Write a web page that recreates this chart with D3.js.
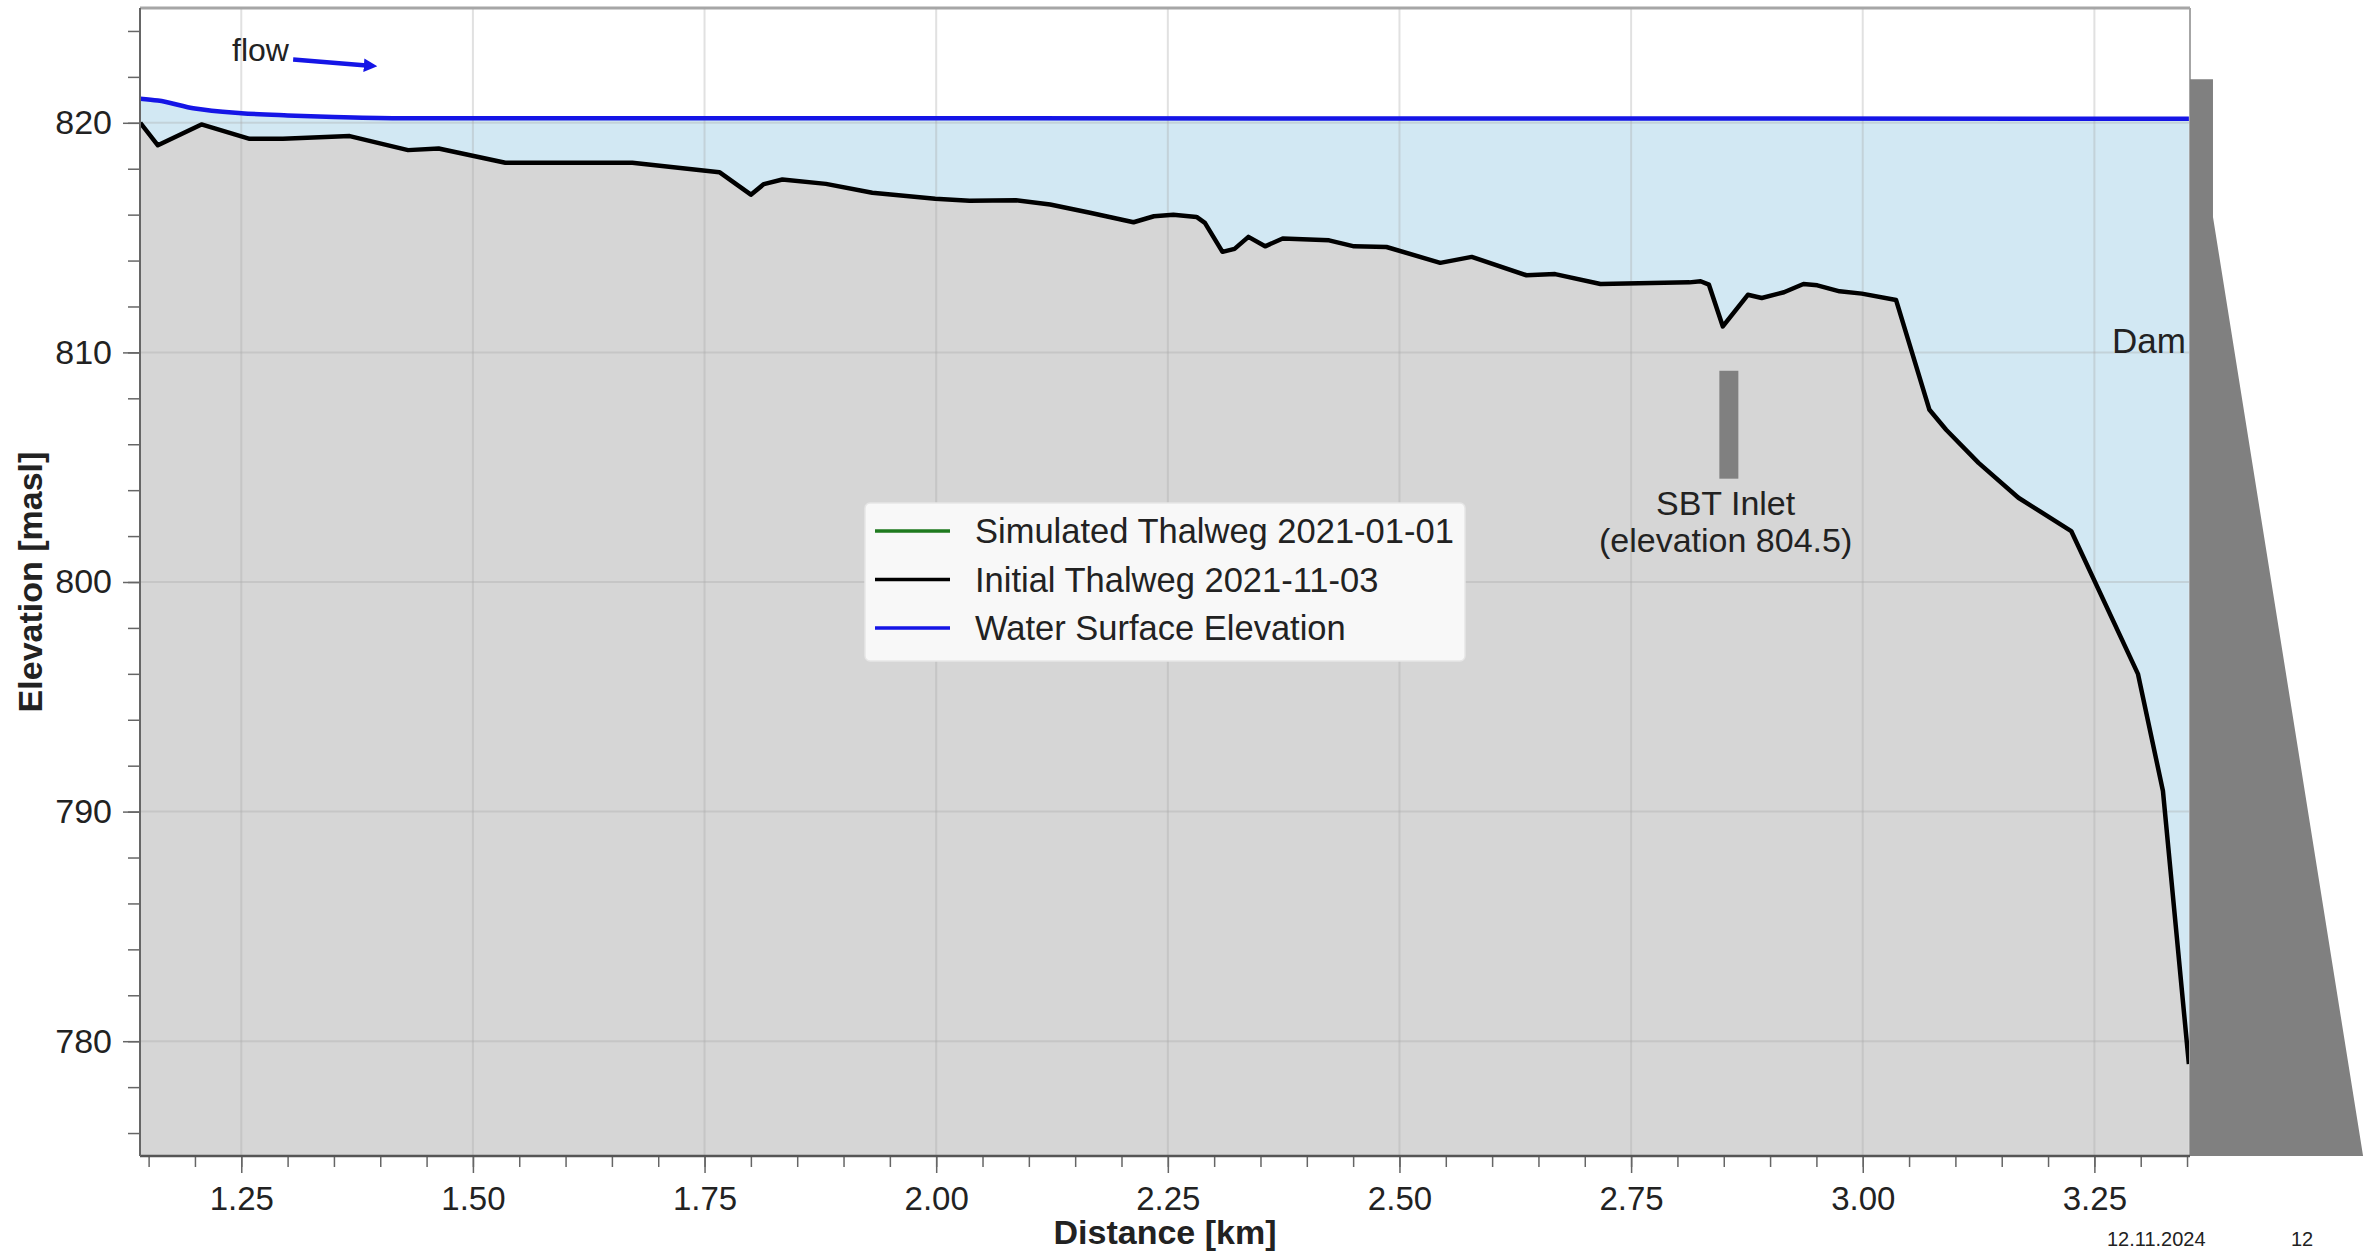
<!DOCTYPE html>
<html>
<head>
<meta charset="utf-8">
<script src="https://cdn.jsdelivr.net/npm/d3@7"></script>
<style>
html,body{margin:0;padding:0;background:#fff;}
svg{display:block;font-family:"Liberation Sans",Arial,Helvetica,sans-serif;}
</style>
</head>
<body>
<svg id="chart" width="2374" height="1253"></svg>
<script>
// Initial thalweg 2021-11-03: distance along reservoir [km] and bed elevation [masl]
const thalwegKm = [1.141, 1.160, 1.207, 1.259, 1.295, 1.367, 1.430, 1.463, 1.535, 1.672,
  1.766, 1.800, 1.814, 1.834, 1.881, 1.931, 1.999, 2.036, 2.086, 2.123,
  2.166, 2.213, 2.235, 2.256, 2.281, 2.290, 2.309, 2.322, 2.337, 2.355,
  2.374, 2.424, 2.451, 2.486, 2.544, 2.578, 2.637, 2.668, 2.717, 2.813,
  2.825, 2.834, 2.849, 2.876, 2.891, 2.915, 2.936, 2.951, 2.975, 2.999,
  3.036, 3.072, 3.090, 3.125, 3.168, 3.225, 3.297, 3.324, 3.352];
const thalwegElev = [820.00, 819.02, 819.93, 819.30, 819.30, 819.42, 818.81, 818.88, 818.26, 818.26,
  817.85, 816.87, 817.33, 817.53, 817.34, 816.95, 816.69, 816.61, 816.63, 816.44,
  816.08, 815.67, 815.93, 816.00, 815.90, 815.64, 814.38, 814.51, 815.03, 814.62,
  814.96, 814.88, 814.62, 814.59, 813.90, 814.16, 813.36, 813.41, 812.98, 813.05,
  813.10, 812.95, 811.13, 812.51, 812.37, 812.62, 812.98, 812.92, 812.66, 812.56,
  812.28, 807.50, 806.63, 805.19, 803.67, 802.22, 796.00, 790.90, 779.00];

// Water surface elevation [masl]
const wseKm = [1.141, 1.160, 1.200, 1.250, 1.300, 1.350, 1.420, 3.352];
const wseElev = [821.05, 820.97, 820.62, 820.42, 820.32, 820.25, 820.20, 820.18];

// SBT inlet structure (distance, bottom and top elevation)
const inletKm = 2.8555;
const inletWidthKm = 0.0205;
const inletElev = [804.5, 809.2];

// Dam outline (distance, elevation)
const damKm = [3.3532, 3.378, 3.378, 3.540, 3.3532];
const damElev = [821.9, 821.9, 815.9, 775.0, 775.0];

// Flow direction arrow (start, end)
const flowKm = [1.306, 1.396];
const flowElev = [822.76, 822.50];

// Ticks
const xMajorTicks = [1.25, 1.50, 1.75, 2.00, 2.25, 2.50, 2.75, 3.00, 3.25];
const xMinorTicks = d3.range(23, 68).map(i => +(i * 0.05).toFixed(2));
const yMajorTicks = [780, 790, 800, 810, 820];
const yMinorTicks = d3.range(388, 413).map(i => i * 2);

// Legend
const legendLabels = ["Simulated Thalweg 2021-01-01", "Initial Thalweg 2021-11-03", "Water Surface Elevation"];
const legendColors = ["#1f7a1f", "#000000", "#1515e6"];

const svg = d3.select("#chart");
const W = 2374, H = 1253;
const plot = {left: 140, right: 2190, top: 8, bottom: 1156};

const x = d3.scaleLinear().domain([1.1407, 3.3532]).range([plot.left, plot.right]);
const y = d3.scaleLinear().domain([775, 825]).range([plot.bottom, plot.top]);

svg.append("rect").attr("width", W).attr("height", H).attr("fill", "#ffffff");

const thalweg = thalwegKm.map((d, i) => [d, thalwegElev[i]]);
const wse = wseKm.map((d, i) => [d, wseElev[i]]);

const defs = svg.append("defs");
defs.append("clipPath").attr("id", "plotClip")
  .append("rect").attr("x", plot.left).attr("y", plot.top)
  .attr("width", plot.right - plot.left).attr("height", plot.bottom - plot.top);

const g = svg.append("g").attr("clip-path", "url(#plotClip)");

// Water body between the water surface and the bed
const waterPoly = wse.concat(thalweg.slice().reverse());
g.append("path")
  .attr("d", d3.line().x(d => x(d[0])).y(d => y(d[1]))(waterPoly) + "Z")
  .attr("fill", "#d2e8f3");

// Sediment / ground below the thalweg
g.append("path")
  .datum(thalweg)
  .attr("d", d3.area().x(d => x(d[0])).y0(y(775)).y1(d => y(d[1])))
  .attr("fill", "#d6d6d6");

// Grid
g.selectAll(".vgrid").data(xMajorTicks).join("line")
  .attr("x1", d => x(d)).attr("x2", d => x(d))
  .attr("y1", plot.top).attr("y2", plot.bottom)
  .attr("stroke", "#a8a8a8").attr("stroke-opacity", 0.35).attr("stroke-width", 2);
g.selectAll(".hgrid").data(yMajorTicks).join("line")
  .attr("x1", plot.left).attr("x2", plot.right)
  .attr("y1", d => y(d)).attr("y2", d => y(d))
  .attr("stroke", "#a8a8a8").attr("stroke-opacity", 0.35).attr("stroke-width", 2);

// Thalweg line
g.append("path")
  .datum(thalweg)
  .attr("d", d3.line().x(d => x(d[0])).y(d => y(d[1])))
  .attr("fill", "none").attr("stroke", "#000").attr("stroke-width", 4.5)
  .attr("stroke-linejoin", "round");

// Water surface line
g.append("path")
  .datum(wse)
  .attr("d", d3.line().x(d => x(d[0])).y(d => y(d[1])).curve(d3.curveMonotoneX))
  .attr("fill", "none").attr("stroke", "#1515e6").attr("stroke-width", 4.5);

// SBT inlet
svg.append("rect")
  .attr("x", x(inletKm - inletWidthKm / 2))
  .attr("width", x(inletKm + inletWidthKm / 2) - x(inletKm - inletWidthKm / 2))
  .attr("y", y(inletElev[1]))
  .attr("height", y(inletElev[0]) - y(inletElev[1]))
  .attr("fill", "#808080");

svg.append("text")
  .attr("x", x(2.852)).attr("y", 515)
  .attr("text-anchor", "middle").attr("font-size", 34).attr("fill", "#222")
  .text("SBT Inlet");
svg.append("text")
  .attr("x", x(2.852)).attr("y", 552)
  .attr("text-anchor", "middle").attr("font-size", 34).attr("fill", "#222")
  .text("(elevation 804.5)");

// Frame (top and right)
svg.append("line").attr("x1", plot.left).attr("x2", plot.right)
  .attr("y1", plot.top).attr("y2", plot.top)
  .attr("stroke", "#a6a6a6").attr("stroke-width", 3);
svg.append("line").attr("x1", plot.right).attr("x2", plot.right)
  .attr("y1", plot.top).attr("y2", plot.bottom)
  .attr("stroke", "#a6a6a6").attr("stroke-width", 2);

// Dam
svg.append("path")
  .attr("d", d3.line()(damKm.map((d, i) => [x(d), y(damElev[i])])) + "Z")
  .attr("fill", "#808080");

svg.append("text")
  .attr("x", 2186).attr("y", 353)
  .attr("text-anchor", "end").attr("font-size", 35).attr("fill", "#222")
  .text("Dam");

// Axes
const axisColor = "#555";
function styleAxis(sel) {
  sel.select(".domain").remove();
  sel.selectAll(".tick line").attr("stroke", "#666").attr("stroke-width", 1.5);
  sel.selectAll(".tick text").attr("fill", "#222").attr("font-size", 33)
    .attr("font-family", "'Liberation Sans', Arial, sans-serif");
}

const xMinor = svg.append("g").attr("transform", `translate(0,${plot.bottom})`)
  .call(d3.axisBottom(x).tickValues(xMinorTicks).tickSize(11).tickFormat(""));
styleAxis(xMinor);
const xMajor = svg.append("g").attr("transform", `translate(0,${plot.bottom})`)
  .call(d3.axisBottom(x).tickValues(xMajorTicks).tickSize(17).tickPadding(14).tickFormat(d3.format(".2f")));
styleAxis(xMajor);

const yMinor = svg.append("g").attr("transform", `translate(${plot.left},0)`)
  .call(d3.axisLeft(y).tickValues(yMinorTicks).tickSize(12).tickFormat(""));
styleAxis(yMinor);
const yMajor = svg.append("g").attr("transform", `translate(${plot.left},0)`)
  .call(d3.axisLeft(y).tickValues(yMajorTicks).tickSize(17).tickPadding(11).tickFormat(d3.format("d")));
styleAxis(yMajor);
yMajor.selectAll(".tick text").attr("font-size", 34);

svg.append("line").attr("x1", plot.left).attr("x2", plot.right)
  .attr("y1", plot.bottom).attr("y2", plot.bottom)
  .attr("stroke", axisColor).attr("stroke-width", 2.5);
svg.append("line").attr("x1", plot.left).attr("x2", plot.left)
  .attr("y1", plot.top).attr("y2", plot.bottom)
  .attr("stroke", "#666").attr("stroke-width", 2);

// Axis titles
svg.append("text")
  .attr("x", (plot.left + plot.right) / 2).attr("y", 1244)
  .attr("text-anchor", "middle").attr("font-size", 34).attr("font-weight", "bold").attr("fill", "#222")
  .text("Distance [km]");
svg.append("text")
  .attr("transform", `translate(42,${(plot.top + plot.bottom) / 2}) rotate(-90)`)
  .attr("text-anchor", "middle").attr("font-size", 34).attr("font-weight", "bold").attr("fill", "#222")
  .text("Elevation [masl]");

// Flow direction annotation
defs.append("marker").attr("id", "arrowHead")
  .attr("viewBox", "0 0 10 10").attr("refX", 2).attr("refY", 5)
  .attr("markerWidth", 3).attr("markerHeight", 3).attr("orient", "auto")
  .append("path").attr("d", "M0,0 L10,5 L0,10 Z").attr("fill", "#1515e6");
svg.append("line")
  .attr("x1", x(flowKm[0])).attr("y1", y(flowElev[0]))
  .attr("x2", x(flowKm[1]) - 10).attr("y2", y(flowElev[1]))
  .attr("stroke", "#1515e6").attr("stroke-width", 4.5)
  .attr("marker-end", "url(#arrowHead)");
svg.append("text")
  .attr("x", x(1.240)).attr("y", 61)
  .attr("font-size", 32).attr("fill", "#222")
  .text("flow");

// Legend
const lg = svg.append("g").attr("transform", "translate(865,503)");
lg.append("rect").attr("width", 600).attr("height", 158).attr("rx", 5)
  .attr("fill", "#f8f8f8").attr("stroke", "#e6e6e6").attr("stroke-width", 1.5);
legendLabels.forEach((lab, i) => {
  const ly = 28 + i * 48.5;
  lg.append("line").attr("x1", 10).attr("x2", 85).attr("y1", ly).attr("y2", ly)
    .attr("stroke", legendColors[i]).attr("stroke-width", 3.5);
  lg.append("text").attr("x", 110).attr("y", ly + 12)
    .attr("font-size", 34.5).attr("fill", "#222").text(lab);
});

// Footer
svg.append("text").attr("x", 2107).attr("y", 1246).attr("font-size", 20).attr("fill", "#222").text("12.11.2024");
svg.append("text").attr("x", 2291).attr("y", 1246).attr("font-size", 20).attr("fill", "#222").text("12");
</script>
</body>
</html>
